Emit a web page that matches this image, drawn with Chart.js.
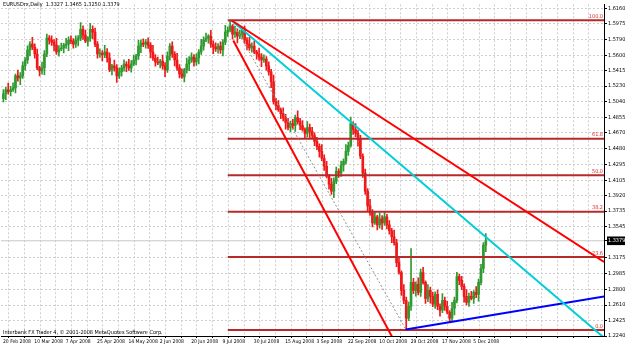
<!DOCTYPE html>
<html>
<head>
<meta charset="utf-8">
<script src="https://cdn.jsdelivr.net/npm/chart.js@4.4.1/dist/chart.umd.min.js"></script>
<style>
 body{margin:0;background:#fff;}
 #c{display:block;}
</style>
</head>
<body>
<canvas id="c" width="625" height="346"></canvas>
<script>
const symbol="EURUSDrx", period="Daily";
const footer="Interbank FX Trader 4, \u00a9 2001-2008 MetaQuotes Software Corp.";
const dateLabels=["20 Feb 2008","10 Mar 2008","7 Apr 2008","25 Apr 2008","14 May 2008","2 Jun 2008","20 Jun 2008","9 Jul 2008","30 Jul 2008","15 Aug 2008","3 Sep 2008","22 Sep 2008","10 Oct 2008","29 Oct 2008","17 Nov 2008","5 Dec 2008"];
const priceTicks=[1.6160,1.5975,1.5790,1.5600,1.5415,1.5230,1.5040,1.4855,1.4670,1.4480,1.4295,1.4105,1.3920,1.3735,1.3545,1.3175,1.2985,1.2800,1.2610,1.2425,1.2240];

const opens=[1.5079,1.5138,1.5186,1.5162,1.5186,1.5209,1.5352,1.5328,1.5352,1.5471,
1.5542,1.5661,1.5732,1.5696,1.5613,1.5447,1.5411,1.5447,1.5613,1.5803,
1.5780,1.5756,1.5720,1.5637,1.5673,1.5685,1.5720,1.5732,1.5780,1.5768,
1.5732,1.5780,1.5803,1.5910,1.5839,1.5768,1.5803,1.5910,1.5875,1.5732,
1.5613,1.5625,1.5601,1.5637,1.5566,1.5423,1.5471,1.5447,1.5352,1.5399,
1.5447,1.5494,1.5471,1.5447,1.5494,1.5542,1.5590,1.5708,1.5744,1.5732,
1.5756,1.5720,1.5637,1.5566,1.5518,1.5506,1.5530,1.5471,1.5423,1.5590,
1.5708,1.5613,1.5542,1.5447,1.5376,1.5340,1.5423,1.5494,1.5542,1.5578,
1.5518,1.5566,1.5637,1.5708,1.5780,1.5803,1.5827,1.5732,1.5696,1.5673,
1.5708,1.5661,1.5756,1.5875,1.5898,1.5946,1.5851,1.5875,1.5827,1.5851,
1.5898,1.5780,1.5732,1.5685,1.5708,1.5637,1.5613,1.5578,1.5542,1.5554,
1.5471,1.5399,1.5281,1.5043,1.4996,1.4948,1.4900,1.4853,1.4794,1.4734,
1.4782,1.4758,1.4853,1.4805,1.4758,1.4710,1.4663,1.4734,1.4687,1.4639,
1.4568,1.4508,1.4449,1.4366,1.4271,1.4152,1.4057,1.3974,1.4093,1.4211,
1.4188,1.4283,1.4330,1.4449,1.4520,1.4782,1.4710,1.4663,1.4592,1.4390,
1.4188,1.3974,1.3796,1.3712,1.3594,1.3665,1.3570,1.3641,1.3594,1.3665,
1.3570,1.3499,1.3427,1.3356,1.3118,1.3000,1.2786,1.2667,1.2453,1.2596,
1.2881,1.2786,1.2857,1.2762,1.3000,1.2881,1.2691,1.2786,1.2714,1.2620,
1.2738,1.2596,1.2548,1.2667,1.2596,1.2524,1.2453,1.2572,1.2667,1.2952,
1.2905,1.2833,1.2714,1.2643,1.2714,1.2691,1.2762,1.2738,1.2881,1.3047,
1.3327];
const highs=[1.5188,1.5216,1.5266,1.5226,1.5269,1.5372,1.5422,1.5392,1.5521,1.5572,
1.5711,1.5762,1.5812,1.5736,1.5673,1.5467,1.5517,1.5653,1.5853,1.5833,
1.5830,1.5786,1.5800,1.5713,1.5745,1.5740,1.5802,1.5820,1.5830,1.5798,
1.5830,1.5833,1.5990,1.5950,1.5899,1.5823,1.5980,1.5950,1.5925,1.5762,
1.5675,1.5655,1.5717,1.5677,1.5626,1.5491,1.5541,1.5487,1.5449,1.5477,
1.5544,1.5524,1.5551,1.5534,1.5602,1.5610,1.5778,1.5784,1.5794,1.5786,
1.5806,1.5750,1.5717,1.5606,1.5578,1.5550,1.5600,1.5511,1.5640,1.5738,
1.5758,1.5643,1.5622,1.5487,1.5436,1.5443,1.5564,1.5582,1.5628,1.5608,
1.5616,1.5667,1.5788,1.5820,1.5863,1.5847,1.5897,1.5772,1.5746,1.5738,
1.5758,1.5786,1.5955,1.5938,1.6017,1.5966,1.5945,1.5915,1.5901,1.5928,
1.5948,1.5810,1.5812,1.5748,1.5768,1.5657,1.5683,1.5618,1.5604,1.5584,
1.5521,1.5429,1.5361,1.5083,1.5056,1.4968,1.4970,1.4893,1.4844,1.4812,
1.4832,1.4883,1.4933,1.4845,1.4818,1.4730,1.4804,1.4774,1.4737,1.4669,
1.4618,1.4538,1.4529,1.4406,1.4331,1.4172,1.4127,1.4133,1.4261,1.4241,
1.4333,1.4360,1.4529,1.4560,1.4860,1.4802,1.4780,1.4703,1.4642,1.4420,
1.4238,1.4004,1.3876,1.3752,1.3725,1.3685,1.3711,1.3681,1.3715,1.3695,
1.3620,1.3529,1.3507,1.3396,1.3178,1.3020,1.2856,1.2707,1.2646,1.3285,
1.2931,1.2887,1.2937,1.3040,1.3060,1.2901,1.2856,1.2826,1.2764,1.2768,
1.2788,1.2626,1.2747,1.2707,1.2656,1.2544,1.2642,1.2707,1.3002,1.2982,
1.2955,1.2863,1.2794,1.2754,1.2774,1.2782,1.2832,1.2921,1.3097,1.3357,
1.3465];
const lows=[1.5039,1.5068,1.5132,1.5112,1.5166,1.5149,1.5288,1.5248,1.5322,1.5421,
1.5502,1.5591,1.5666,1.5563,1.5427,1.5351,1.5371,1.5367,1.5583,1.5730,
1.5716,1.5650,1.5607,1.5587,1.5653,1.5625,1.5680,1.5652,1.5738,1.5682,
1.5692,1.5710,1.5773,1.5789,1.5748,1.5708,1.5763,1.5795,1.5702,1.5563,
1.5573,1.5531,1.5571,1.5516,1.5403,1.5363,1.5407,1.5272,1.5322,1.5349,
1.5407,1.5401,1.5417,1.5397,1.5474,1.5482,1.5550,1.5628,1.5702,1.5682,
1.5680,1.5567,1.5536,1.5468,1.5486,1.5446,1.5431,1.5343,1.5393,1.5540,
1.5573,1.5472,1.5417,1.5326,1.5320,1.5280,1.5383,1.5414,1.5512,1.5468,
1.5478,1.5496,1.5607,1.5658,1.5760,1.5743,1.5692,1.5616,1.5643,1.5623,
1.5621,1.5591,1.5726,1.5825,1.5878,1.5791,1.5811,1.5747,1.5797,1.5801,
1.5740,1.5662,1.5655,1.5635,1.5617,1.5553,1.5538,1.5462,1.5512,1.5421,
1.5359,1.5211,1.5013,1.4946,1.4928,1.4840,1.4813,1.4714,1.4704,1.4684,
1.4718,1.4688,1.4775,1.4708,1.4690,1.4603,1.4623,1.4607,1.4609,1.4518,
1.4468,1.4379,1.4336,1.4221,1.4132,1.3997,1.3934,1.3894,1.4063,1.4138,
1.4148,1.4213,1.4300,1.4399,1.4500,1.4650,1.4623,1.4512,1.4360,1.4138,
1.3934,1.3726,1.3682,1.3544,1.3574,1.3510,1.3530,1.3514,1.3564,1.3520,
1.3459,1.3357,1.3326,1.3068,1.2980,1.2726,1.2627,1.2311,1.2423,1.2546,
1.2746,1.2716,1.2732,1.2712,1.2861,1.2631,1.2651,1.2634,1.2590,1.2570,
1.2556,1.2478,1.2518,1.2546,1.2504,1.2406,1.2413,1.2492,1.2637,1.2855,
1.2793,1.2644,1.2613,1.2593,1.2671,1.2631,1.2698,1.2658,1.2851,1.2997,
1.3250];
const closes=[1.5138,1.5186,1.5162,1.5186,1.5209,1.5352,1.5328,1.5352,1.5471,1.5542,
1.5661,1.5732,1.5696,1.5613,1.5447,1.5411,1.5447,1.5613,1.5803,1.5780,
1.5756,1.5720,1.5637,1.5673,1.5685,1.5720,1.5732,1.5780,1.5768,1.5732,
1.5780,1.5803,1.5910,1.5839,1.5768,1.5803,1.5910,1.5875,1.5732,1.5613,
1.5625,1.5601,1.5637,1.5566,1.5423,1.5471,1.5447,1.5352,1.5399,1.5447,
1.5494,1.5471,1.5447,1.5494,1.5542,1.5590,1.5708,1.5744,1.5732,1.5756,
1.5720,1.5637,1.5566,1.5518,1.5506,1.5530,1.5471,1.5423,1.5590,1.5708,
1.5613,1.5542,1.5447,1.5376,1.5340,1.5423,1.5494,1.5542,1.5578,1.5518,
1.5566,1.5637,1.5708,1.5780,1.5803,1.5827,1.5732,1.5696,1.5673,1.5708,
1.5661,1.5756,1.5875,1.5898,1.5946,1.5851,1.5875,1.5827,1.5851,1.5898,
1.5780,1.5732,1.5685,1.5708,1.5637,1.5613,1.5578,1.5542,1.5554,1.5471,
1.5399,1.5281,1.5043,1.4996,1.4948,1.4900,1.4853,1.4794,1.4734,1.4782,
1.4758,1.4853,1.4805,1.4758,1.4710,1.4663,1.4734,1.4687,1.4639,1.4568,
1.4508,1.4449,1.4366,1.4271,1.4152,1.4057,1.3974,1.4093,1.4211,1.4188,
1.4283,1.4330,1.4449,1.4520,1.4782,1.4710,1.4663,1.4592,1.4390,1.4188,
1.3974,1.3796,1.3712,1.3594,1.3665,1.3570,1.3641,1.3594,1.3665,1.3570,
1.3499,1.3427,1.3356,1.3118,1.3000,1.2786,1.2667,1.2453,1.2596,1.2881,
1.2786,1.2857,1.2762,1.3000,1.2881,1.2691,1.2786,1.2714,1.2620,1.2738,
1.2596,1.2548,1.2667,1.2596,1.2524,1.2453,1.2572,1.2667,1.2952,1.2905,
1.2833,1.2714,1.2643,1.2714,1.2691,1.2762,1.2738,1.2881,1.3047,1.3327,
1.3379];

// fibo retracement + hand drawn lines, in (bar index, price)
const fibLabels=["100.0","61.8","50.0","38.2","23.6","0.0"];
const fibPrices=[1.6017,1.4601,1.4164,1.3727,1.3186,1.2311];
const fibFrom=93, lastSlot=249;
const redFast=[[95.3,1.5776],[161.7,1.2200]];
const redSlow=[[94.5,1.6017],[249,1.3125]];
const cyanLine=[[94.5,1.6017],[248.6,1.2230]];
const fiboBase=[[94.5,1.6017],[167,1.2311]];
const blueLine=[[166.8,1.2319],[249,1.2713]];

const bid=closes[closes.length-1];
const last=closes.length-1;
const title=symbol+","+period+"  "+[opens[last],highs[last],lows[last],closes[last]].map(v=>v.toFixed(4)).join(" ");

const fam="'Liberation Sans Narrow','DejaVu Sans Condensed',sans-serif";
const dateFont={family:fam,size:5};
const priceFont={family:fam,size:5.5};
const upColor='#2f9a2f', downColor='#f01818';
const candleColor=c=>closes[c.dataIndex]>=opens[c.dataIndex]?upColor:downColor;

function seg(pts,color,width,dash,order){
 return {type:'line',data:pts.map(p=>({x:p[0],y:p[1]})),borderColor:color,borderWidth:width,
  borderDash:dash||[],pointRadius:0,fill:false,order:order||1};
}

const datasets=[
 seg(redFast,'#ff0000',2),
 seg(redSlow,'#ff0000',2),
 seg(cyanLine,'#00cfd8',2),
 seg(blueLine,'#0000ff',2),
 seg(fiboBase,'#909090',1,[2,2]),
 ...fibPrices.map(p=>seg([[fibFrom,p],[lastSlot,p]],'#b82a2a',2,null,2)),
 {type:'bar',data:closes.map((c,i)=>({x:i,y:[opens[i],c]})),backgroundColor:candleColor,
  barThickness:2,grouped:false,minBarLength:1,order:4},
 {type:'bar',data:closes.map((c,i)=>({x:i,y:[lows[i],highs[i]]})),backgroundColor:candleColor,
  barThickness:1,grouped:false,order:5},
 seg([[-1,bid],[lastSlot,bid]],'#c8c8c8',1,null,9)
];

const mtText={id:'mtText',afterDraw(chart){
 const {ctx,chartArea,scales}=chart;
 ctx.save();
 ctx.font="5.5px "+fam;
 ctx.fillStyle='#000';ctx.textAlign='left';ctx.textBaseline='middle';
 ctx.fillText(title,3,5);
 ctx.fillText(footer,3,333);
 ctx.fillStyle='#d83030';ctx.textAlign='right';ctx.textBaseline='bottom';
 fibPrices.forEach((p,i)=>ctx.fillText(fibLabels[i],chartArea.right-1,scales.y.getPixelForValue(p)-1));
 ctx.restore();
}};

new Chart(document.getElementById('c'),{
 type:'bar',
 data:{datasets},
 plugins:[mtText],
 options:{
  responsive:false,animation:false,devicePixelRatio:1,
  layout:{padding:{left:1,top:2,right:0,bottom:0}},
  plugins:{legend:{display:false},tooltip:{enabled:false}},
  scales:{
   x:{type:'linear',min:-1,max:lastSlot,offset:false,
    afterBuildTicks:s=>{s.ticks=[];for(let v=-1;v<=lastSlot;v+=6.5)s.ticks.push({value:v});},
    afterFit:s=>{s.height=10;},
    ticks:{autoSkip:false,maxRotation:0,align:'start',padding:1,labelOffset:2,font:dateFont,color:'#000',
     callback:v=>{const k=(v+1)/13;return Number.isInteger(k)&&k<dateLabels.length?dateLabels[k]:'';}},
    grid:{color:'#cfcfcf',tickLength:2,tickColor:'#000'},
    border:{color:'#000',dash:[2,2]}
   },
   y:{type:'linear',position:'right',min:1.2240,max:1.6208,
    afterBuildTicks:s=>{s.ticks=priceTicks.concat([bid]).sort((a,b)=>a-b).map(v=>({value:v}));},
    afterFit:s=>{s.width=21;},
    ticks:{autoSkip:false,padding:1,font:priceFont,
     color:c=>c.tick&&c.tick.value===bid?'#fff':'#000',
     showLabelBackdrop:c=>!!(c.tick&&c.tick.value===bid),
     backdropColor:'#000',backdropPadding:1,
     callback:v=>v.toFixed(4)},
    grid:{color:c=>c.tick&&c.tick.value===bid?'rgba(0,0,0,0)':'#cfcfcf',tickLength:3,tickColor:'#000'},
    border:{color:'#000',dash:[2,2]}
   }
  }
 }
});
</script>
</body>
</html>
